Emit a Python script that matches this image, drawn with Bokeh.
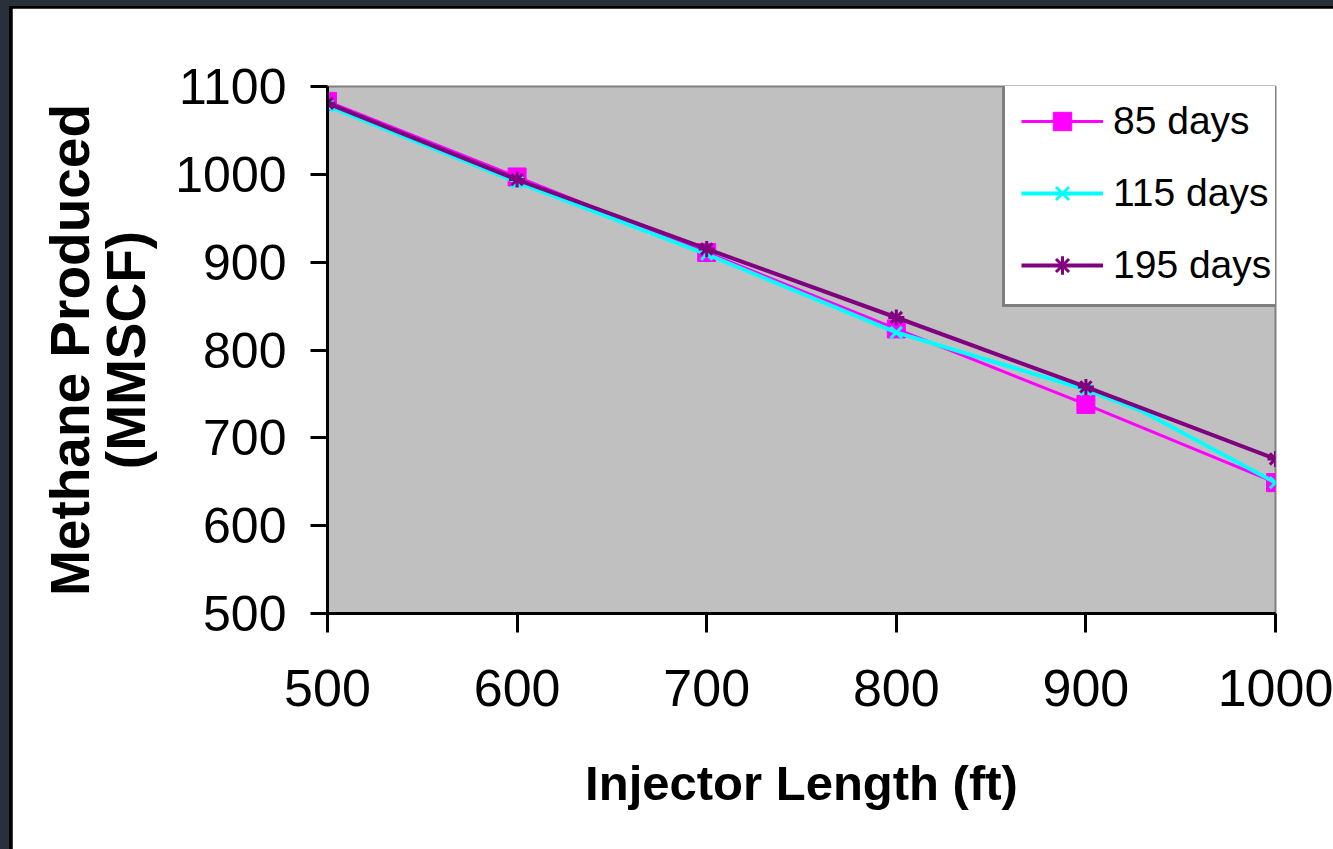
from bokeh.plotting import figure
from bokeh.models import Range1d, FixedTicker, Legend, LegendItem
from bokeh.layouts import column
from bokeh.embed import file_html
from bokeh.resources import INLINE

# Methane produced (MMSCF) versus injector length (ft) for three durations
injector_length = [500, 600, 700, 800, 900, 1000]
days_85 = [1083, 997, 911, 824, 738, 649]
days_115 = [1078, 991, 909, 820, 755, 649]
days_195 = [1081, 994, 915, 837, 758, 676]

# the 115-day trace has one unmarked vertex between 900 and 1000 ft
days_115_trace_x = [500, 600, 700, 800, 900, 930, 1000]
days_115_trace_y = [1078, 991, 909, 820, 755, 730, 649]

x_ticks = [500, 600, 700, 800, 900, 1000]
y_ticks = [500, 600, 700, 800, 900, 1000, 1100]

series_labels = ["85 days", "115 days", "195 days"]

FONT = "Liberation Sans"

p = figure(
    width=1321, height=841,
    x_range=Range1d(500, 1000), y_range=Range1d(500, 1100),
    output_backend="svg", toolbar_location=None,
    min_border_left=315, min_border_right=58,
    min_border_top=78, min_border_bottom=236,
)
p.background_fill_color = "#C0C0C0"
p.border_fill_color = "white"
p.outline_line_color = "#808080"
p.outline_line_width = 2
p.xgrid.visible = False
p.ygrid.visible = False

for ax, ticks, tick_out in ((p.xaxis[0], x_ticks, 19), (p.yaxis[0], y_ticks, 17)):
    ax.ticker = FixedTicker(ticks=ticks)
    ax.axis_line_color = "black"
    ax.axis_line_width = 3
    ax.major_tick_line_color = "black"
    ax.major_tick_line_width = 3
    ax.major_tick_in = 0
    ax.major_tick_out = tick_out
    ax.minor_tick_line_color = None
    ax.major_label_text_font = FONT
    ax.major_label_text_color = "black"
    ax.axis_label_text_font = FONT
    ax.axis_label_text_font_style = "bold"
    ax.axis_label_text_color = "black"

p.xaxis.major_label_text_font_size = "52px"
p.xaxis.major_label_standoff = 37
p.xaxis.axis_label = "Injector Length (ft)"
p.xaxis.axis_label_text_font_size = "49px"
p.xaxis.axis_label_standoff = 47

p.yaxis.major_label_text_font_size = "50px"
p.yaxis.major_label_standoff = 24
p.yaxis.axis_label = "Methane Produced\n(MMSCF)"
p.yaxis.axis_label_text_font_size = "55px"
p.yaxis.axis_label_text_line_height = 0.9
p.yaxis.axis_label_standoff = 15

r85_line = p.line(injector_length, days_85, line_color="#FF00FF", line_width=3)
r85_pts = p.scatter(injector_length, days_85, marker="square", size=18,
                    fill_color="#FF00FF", line_color="#FF00FF")

r115_line = p.line(days_115_trace_x, days_115_trace_y, line_color="#00FFFF", line_width=4)
r115_pts = p.scatter(injector_length, days_115, marker="x", size=16,
                     line_color="#00FFFF", line_width=3)

r195_line = p.line(injector_length, days_195, line_color="#800080", line_width=4)
r195_pts = p.scatter(injector_length, days_195, marker="asterisk", size=16,
                     line_color="#800080", line_width=3)

legend = Legend(
    items=[
        LegendItem(label=series_labels[0], renderers=[r85_line, r85_pts]),
        LegendItem(label=series_labels[1], renderers=[r115_line, r115_pts]),
        LegendItem(label=series_labels[2], renderers=[r195_line, r195_pts]),
    ],
    location=(675, 306),
    label_text_font=FONT,
    label_text_font_size="39px",
    label_text_color="black",
    label_standoff=10,
    glyph_width=82, glyph_height=46, label_height=46,
    spacing=26, padding=16, margin=0,
    border_line_color="black", border_line_width=3,
    background_fill_color="white", background_fill_alpha=1.0,
)
p.add_layout(legend, "center")

inner = column(p, styles={"background-color": "black",
                          "padding-left": "3px", "padding-top": "2px"})
page = column(inner, styles={"background-color": "#28303a",
                             "padding-left": "9px", "padding-top": "6px"})

open("out.html", "w").write(file_html(page, INLINE))
